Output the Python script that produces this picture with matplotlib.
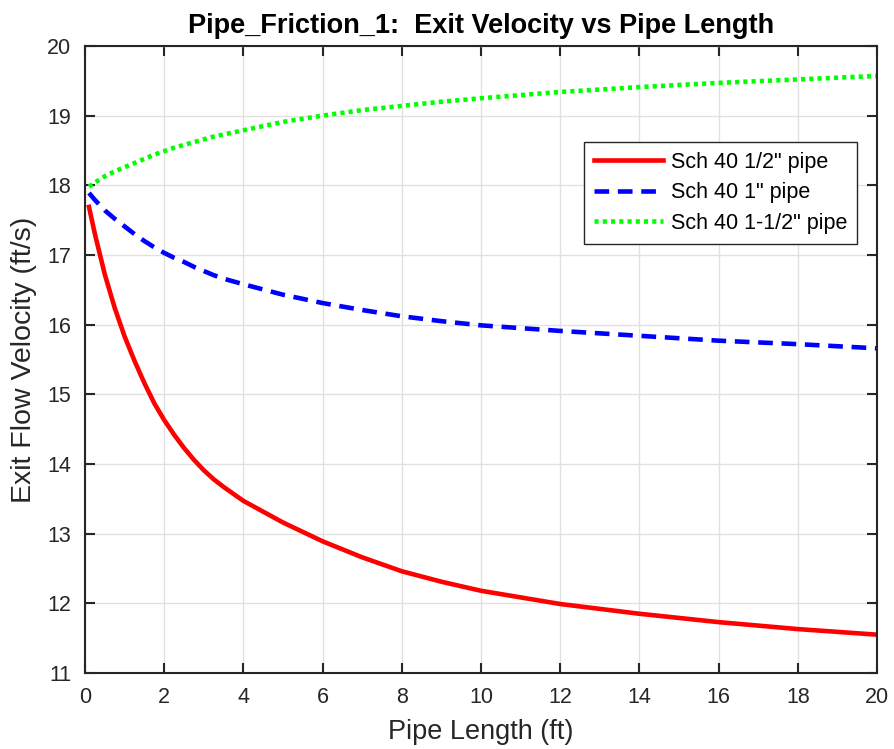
import matplotlib.pyplot as plt

plt.rcParams['font.family'] = ['Liberation Sans', 'DejaVu Sans']

# Pipe length (ft)
pipe_length = [0.1, 0.25, 0.5, 0.75, 1, 1.25, 1.5, 1.75, 2, 2.25, 2.5, 2.75, 3, 3.25, 3.5,
               4, 5, 6, 7, 8, 9, 10, 12, 14, 16, 18, 20]

# Exit velocity (ft/s)
v_half = [17.69, 17.30, 16.72, 16.24, 15.83, 15.48, 15.16, 14.87, 14.63, 14.42, 14.23,
          14.06, 13.91, 13.78, 13.67, 13.47, 13.16, 12.89, 12.66, 12.46, 12.31, 12.18,
          11.99, 11.85, 11.73, 11.63, 11.55]
v_one = [17.89, 17.79, 17.64, 17.52, 17.41, 17.3, 17.2, 17.11, 17.03, 16.96, 16.9,
         16.83, 16.77, 16.71, 16.66, 16.58, 16.43, 16.31, 16.21, 16.12, 16.05, 15.99,
         15.91, 15.84, 15.77, 15.72, 15.66]
v_one_half = [17.98, 18.04, 18.13, 18.2, 18.26, 18.32, 18.38, 18.44, 18.49, 18.54, 18.58,
              18.62, 18.66, 18.7, 18.73, 18.79, 18.91, 19.0, 19.08, 19.14, 19.2, 19.25,
              19.34, 19.41, 19.47, 19.52, 19.57]

labels = ['Sch 40 1/2" pipe', 'Sch 40 1" pipe', 'Sch 40 1-1/2" pipe']

fig = plt.figure(figsize=(8.94, 7.49), dpi=100)
ax = fig.add_axes([0.0951, 0.1015, 0.8859, 0.8371])

ax.plot(pipe_length, v_half, color='#ff0000', linewidth=3.3, label=labels[0])
ax.plot(pipe_length, v_one, color='#0000ff', linewidth=3.3, linestyle=(0, (3.2, 1.9)), label=labels[1])
ax.plot(pipe_length, v_one_half, color='#00ff00', linewidth=3.3, linestyle=(0, (0.9, 0.9)), label=labels[2])

ax.set_xlim(0, 20)
ax.set_ylim(11, 20)
ax.set_xticks(range(0, 21, 2))
ax.set_yticks(range(11, 21))
ax.grid(True, color='#e1e1e1', linewidth=1)
ax.set_axisbelow(True)

ax.tick_params(direction='in', top=True, right=True, length=7, width=1.5,
               labelsize=15.5, colors='#262626', pad=10)
for sp in ax.spines.values():
    sp.set_color('#262626')
    sp.set_linewidth(1.5)

ax.set_xlabel('Pipe Length (ft)', fontsize=19.5, color='#262626', labelpad=8)
ax.set_ylabel('Exit Flow Velocity (ft/s)', fontsize=20.5, color='#262626', labelpad=7)
ax.set_title('Pipe_Friction_1:  Exit Velocity vs Pipe Length', fontsize=19.5,
             fontweight='bold', pad=9)

leg = ax.legend(loc='upper right', bbox_to_anchor=(0.975, 0.847), borderaxespad=0,
                fontsize=15.5, fancybox=False, framealpha=1, edgecolor='#262626',
                handlelength=3.2, borderpad=0.45, labelspacing=0.45, handletextpad=0.4)
leg.get_frame().set_linewidth(1)

fig.savefig('out.png', dpi=100)
